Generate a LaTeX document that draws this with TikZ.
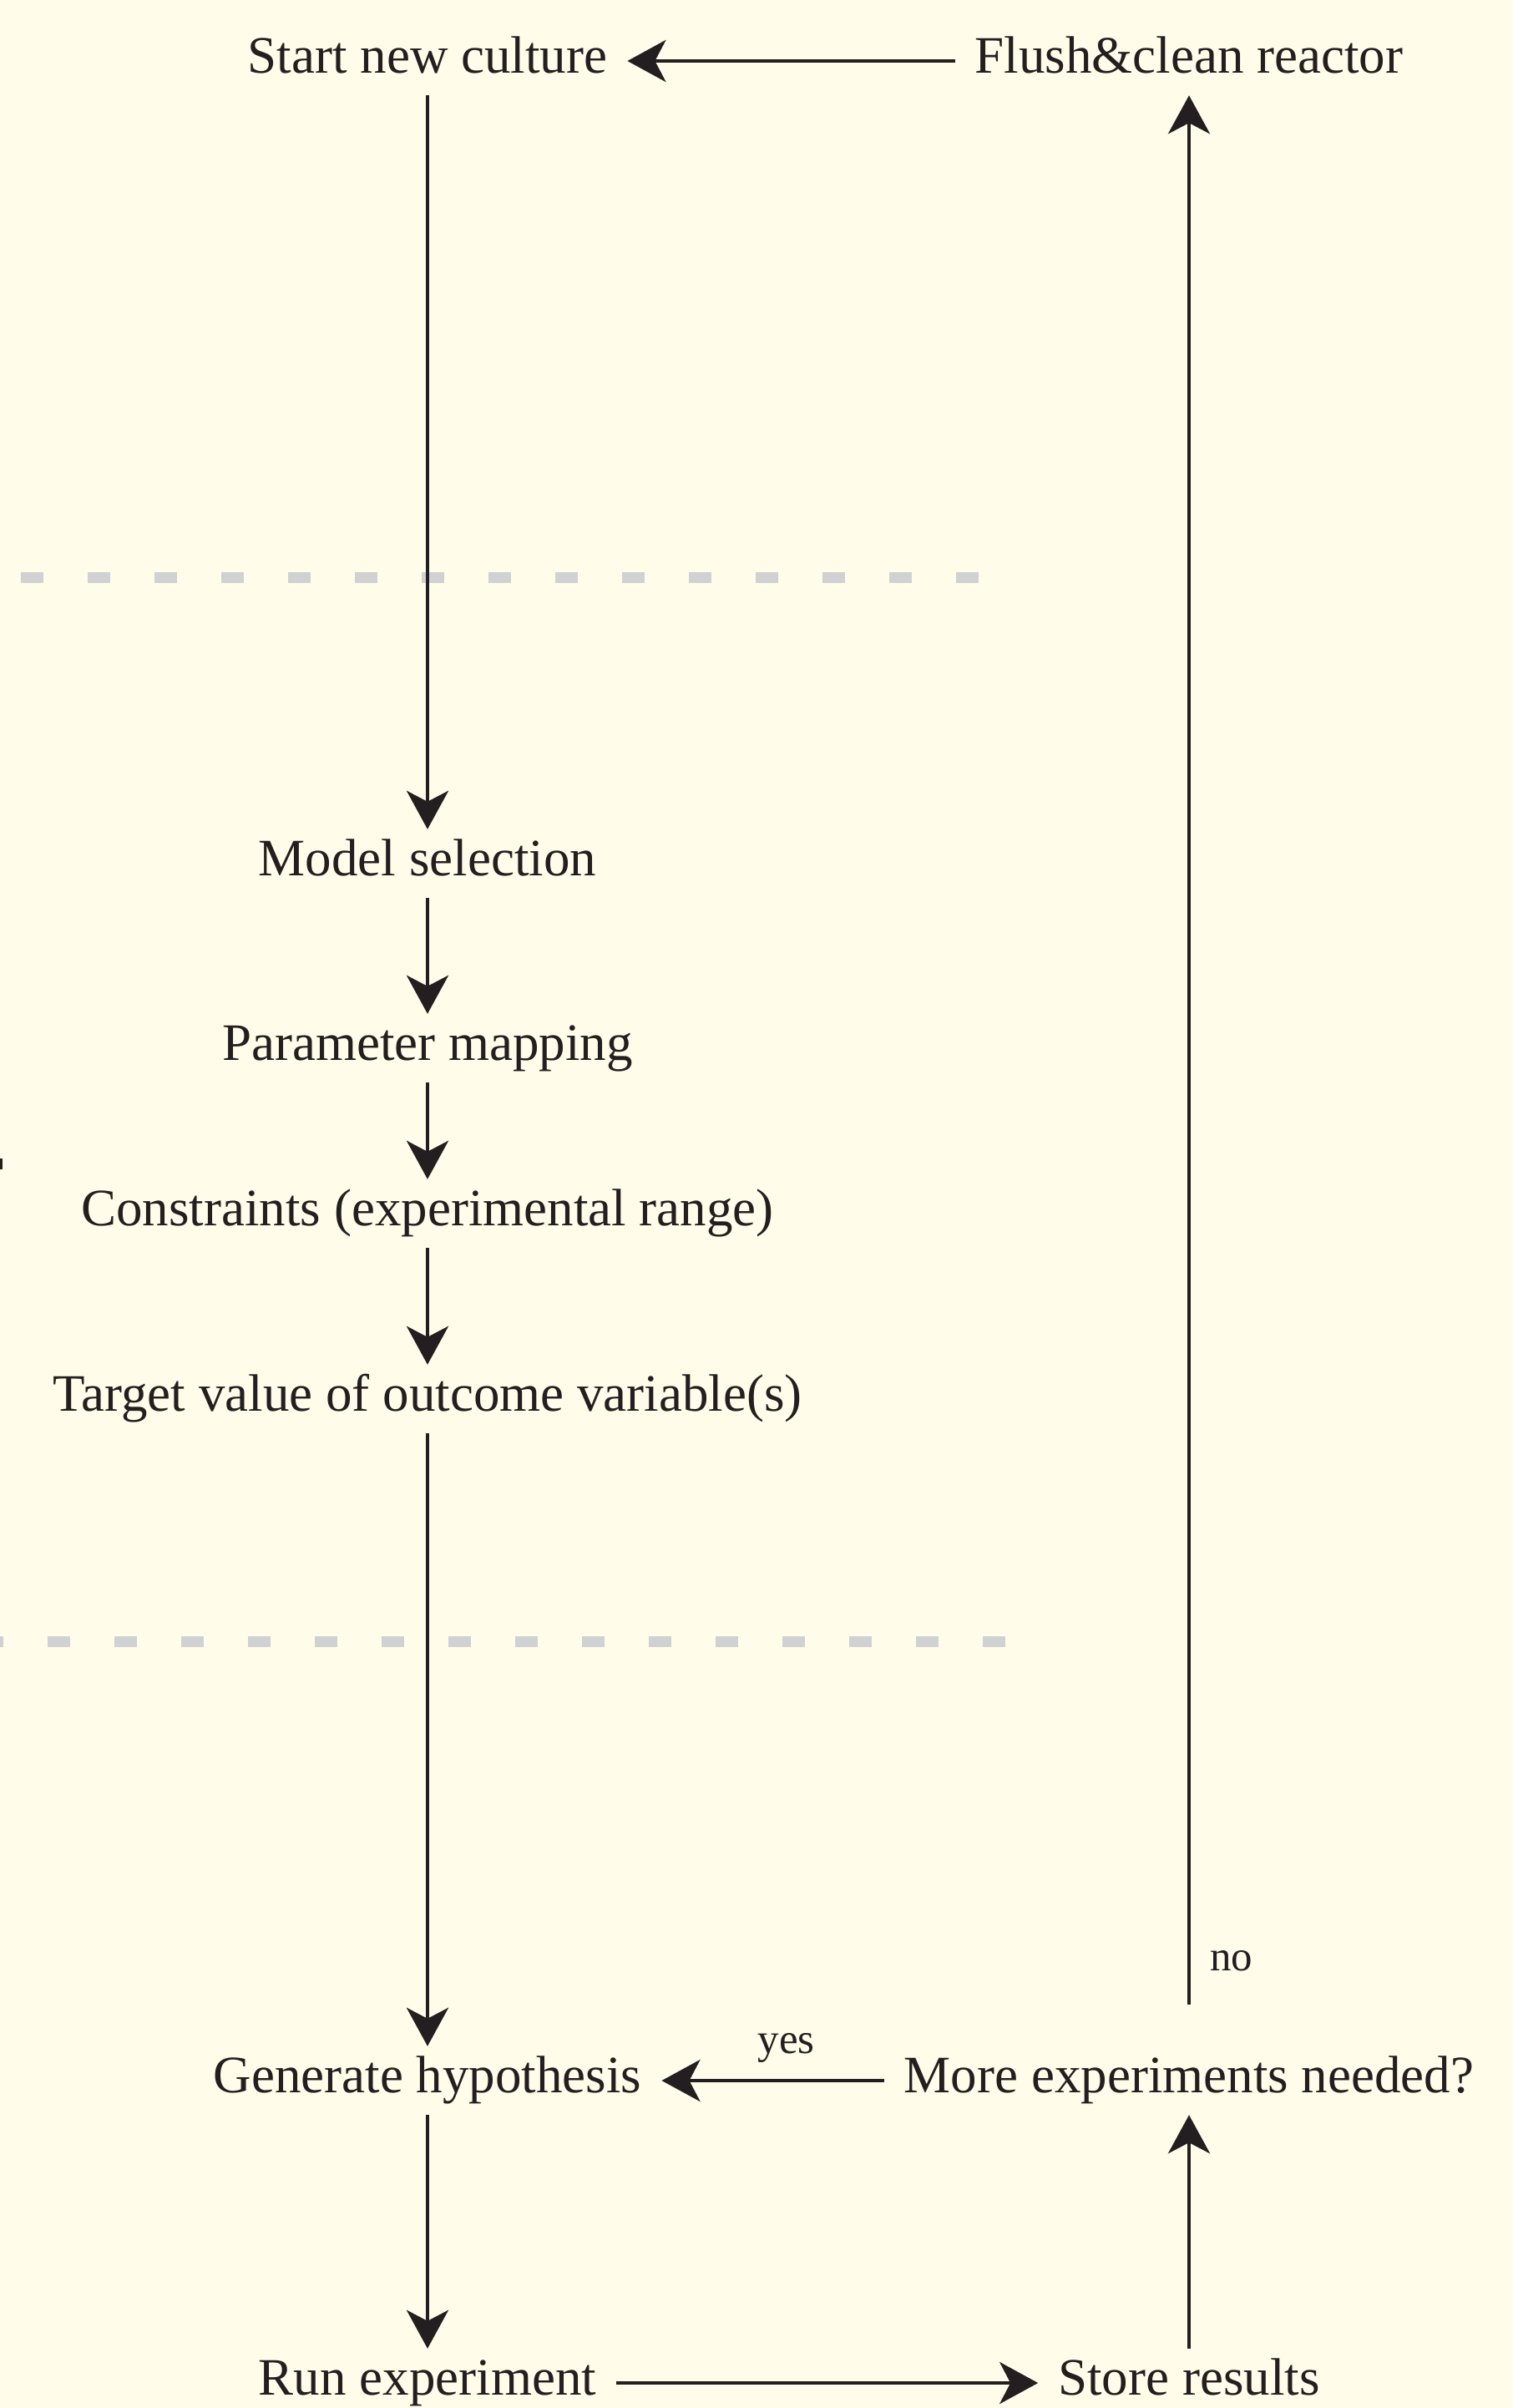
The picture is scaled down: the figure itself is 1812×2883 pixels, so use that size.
\documentclass[tikz,border=0pt]{standalone}
\usepackage{fontspec}
\setmainfont{Liberation Serif}
\definecolor{bgcream}{RGB}{255, 252, 233}
\definecolor{inkdark}{RGB}{35, 31, 32}
\definecolor{sepgray}{RGB}{208, 209, 211}
\usetikzlibrary{arrows.meta, positioning}

\tikzset{
  stage/.style={anchor=base, text=inkdark, font=\fontsize{63}{70}\selectfont,
    text height=50pt, text depth=22pt, inner xsep=24pt, inner ysep=5pt},
  lbl/.style={text=inkdark, font=\fontsize{51}{56}\selectfont, inner sep=0pt},
  arr/.style={draw=inkdark, line width=4.5pt,
    -{Stealth[length=46pt, width=50pt, inset=13pt]}},
  sepline/.style={draw=sepgray, line width=13pt, dash pattern=on 27pt off 53pt}
}

\begin{document}
\begin{tikzpicture}[x=1pt, y=-1pt]
  \fill[bgcream] (0,0) rectangle (1812,2883);
  \useasboundingbox (0,0) rectangle (1812,2883);

  % Separators
  \draw[sepline] (24.5,691) -- (1172,691);
  \draw[sepline, dash phase=23pt] (0,1965) -- (1204,1965);
  \fill[inkdark] (0,1387) rectangle (3,1400);

  % Left column
  \node[stage] (start) at (512,87) {Start new culture};
  \node[stage] (modelsel) at (512,1048) {Model selection};
  \node[stage] (parammap) at (512,1269) {Parameter mapping};
  \node[stage] (constr) at (512,1467) {Constraints (experimental range)};
  \node[stage] (target) at (512,1689) {Target value of outcome variable(s)};
  \node[stage] (genhyp) at (512,2505) {Generate hypothesis};
  \node[stage] (runexp) at (512,2867) {Run experiment};

  % Right column
  \node[stage] (flush) at (1424,87) {Flush\&clean reactor};
  \node[stage] (more) at (1424,2505) {More experiments needed?};
  \node[stage] (store) at (1424,2867) {Store results};

  % Flow
  \draw[arr] (start) -- (modelsel);
  \draw[arr] (modelsel) -- (parammap);
  \draw[arr] (parammap) -- (constr);
  \draw[arr] (constr) -- (target);
  \draw[arr] (target) -- (genhyp);
  \draw[arr] (genhyp) -- (runexp);
  \draw[arr] (runexp) -- (store);
  \draw[arr] (store) -- (more);
  \draw[arr] (more) -- node[lbl, anchor=base, pos=0.44, yshift=33pt] {yes} (genhyp);
  \draw[arr, shorten <=50pt] (more.north) -- node[lbl, anchor=base west, pos=0.0385, xshift=23pt] {no} (flush.south);
  \draw[arr] (flush) -- (start);
\end{tikzpicture}
\end{document}
